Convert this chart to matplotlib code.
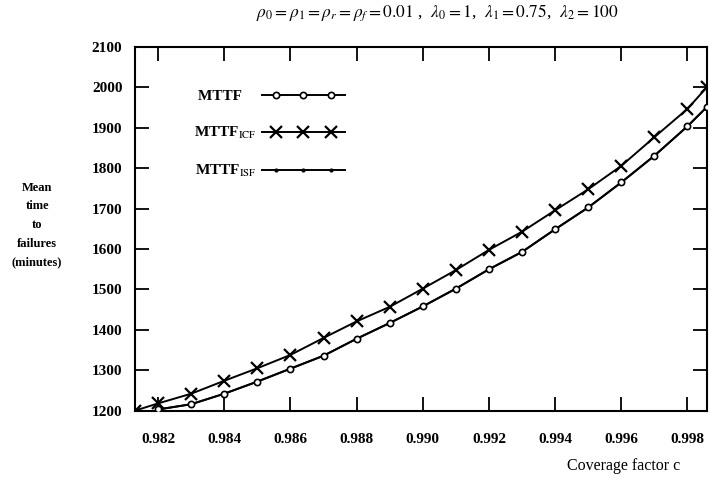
import matplotlib
matplotlib.use('Agg')
import matplotlib.pyplot as plt
from matplotlib.legend_handler import HandlerLine2D

plt.rcParams['font.family'] = ['Liberation Serif', 'DejaVu Serif']
plt.rcParams['mathtext.fontset'] = 'stix'

# coverage factor c
c_icf = [0.9813, 0.982, 0.983, 0.984, 0.985, 0.986, 0.987, 0.988, 0.989, 0.990,
         0.991, 0.992, 0.993, 0.994, 0.995, 0.996, 0.997, 0.998, 0.99859]
mttf_icf = [1200, 1218, 1242, 1274, 1305, 1338, 1380, 1421, 1457, 1502,
            1548, 1598, 1643, 1696, 1748, 1806, 1877, 1947, 2001]

c_mttf = [0.982, 0.983, 0.984, 0.985, 0.986, 0.987, 0.988, 0.989, 0.990,
          0.991, 0.992, 0.993, 0.994, 0.995, 0.996, 0.997, 0.998, 0.99859]
mttf = [1203, 1216, 1242, 1272, 1304, 1336, 1378, 1417, 1458,
        1502, 1550, 1593, 1649, 1703, 1765, 1831, 1904, 1952]
# ISF curve lies on top of the plain MTTF curve
mttf_isf = mttf

x_ticks = [0.982, 0.984, 0.986, 0.988, 0.990, 0.992, 0.994, 0.996, 0.998]
y_ticks = [1200, 1300, 1400, 1500, 1600, 1700, 1800, 1900, 2000, 2100]

fig = plt.figure(figsize=(7.1, 4.8), dpi=100)
ax = fig.add_axes([0.190, 0.1444, 0.8058, 0.7576])

ax.plot(c_mttf, mttf_isf, color='black', lw=1.4, marker='.', ms=4,
        label=r'MTTF$_{\mathrm{ISF}}$', zorder=2)
ax.plot(c_icf, mttf_icf, color='black', lw=1.4, marker='x', ms=8, mew=1.6,
        label=r'MTTF$_{\mathrm{ICF}}$', zorder=3)
# trailing spaces keep the plain label as wide as the subscripted ones
ax.plot(c_mttf, mttf, color='black', lw=1.4, marker='o', ms=4.5, mew=1.2,
        mfc='white', label='MTTF\u2002\u2002', zorder=4)

ax.set_xlim(0.9813, 0.99859)
ax.set_ylim(1200, 2100)
ax.set_xticks(x_ticks)
ax.set_xticklabels(['%.3f' % v for v in x_ticks])
ax.set_yticks(y_ticks)
ax.tick_params(direction='in', length=10, width=1.3, top=True, right=True,
               labelsize=11, pad=9)
ax.tick_params(axis='x', pad=16)
for lab in ax.get_xticklabels() + ax.get_yticklabels():
    lab.set_fontweight('bold')
for sp in ax.spines.values():
    sp.set_linewidth(1.5)

ax.set_ylabel('Mean\ntime\nto\nfailures\n(minutes)', rotation=0, fontsize=9,
              fontweight='bold', linespacing=1.75, ha='center', va='center')
ax.yaxis.set_label_coords(-0.171, 0.51)

fig.text(680 / 710, 1 - 466 / 480, 'Coverage factor c', fontsize=11.5,
         ha='right', va='center')

fig.text(437 / 710, 1 - 13 / 480,
         r'$\rho_0 = \rho_1 = \rho_r = \rho_f = 0.01$ ,  $\lambda_0 = 1$,  '
         r'$\lambda_1 = 0.75$,  $\lambda_2 = 100$',
         fontsize=12.5, ha='center', va='center')

handles, labels = ax.get_legend_handles_labels()
order = [2, 1, 0]
leg = ax.legend([handles[i] for i in order], [labels[i] for i in order],
                loc='upper left', bbox_to_anchor=(0.090, 0.905), frameon=False,
                markerfirst=False, numpoints=7, handlelength=5.4,
                handletextpad=0.35, labelspacing=1.45, borderpad=0,
                prop={'size': 11, 'weight': 'bold'},
                handler_map={h: HandlerLine2D(marker_pad=0) for h in handles})
# sample line runs past the end markers, as in the original
for line in leg.get_lines():
    line.set_markevery([1, 3, 5])

fig.savefig('out.png', dpi=100)
